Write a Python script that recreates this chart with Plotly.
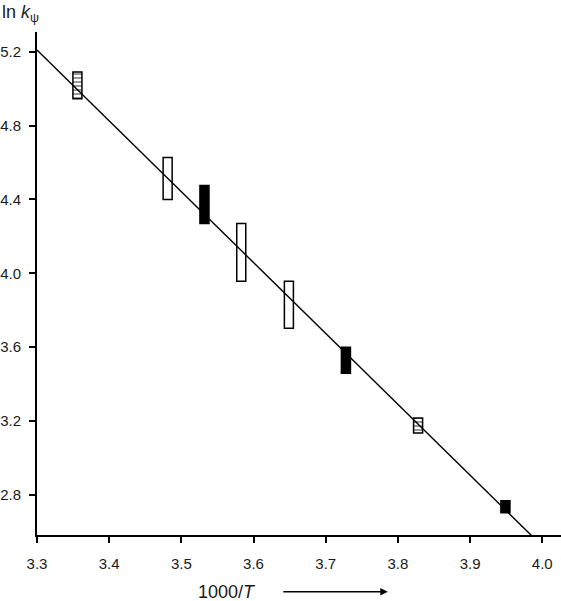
import plotly.graph_objects as go

# Data
x_open = [3.481, 3.583, 3.649]
lo_open = [4.40, 3.957, 3.703]
hi_open = [4.627, 4.27, 3.957]

x_filled = [3.532, 3.728, 3.949]
lo_filled = [4.27, 3.459, 2.703]
hi_filled = [4.476, 3.60, 2.768]

x_hatched = [3.356, 3.828]
lo_hatched = [4.946, 3.135]
hi_hatched = [5.09, 3.216]

fit_x = [3.30, 3.993]
fit_y = [5.21, 2.55]

x_ticks = [3.3, 3.4, 3.5, 3.6, 3.7, 3.8, 3.9, 4.0]
y_ticks = [2.8, 3.2, 3.6, 4.0, 4.4, 4.8, 5.2]

BW = 0.0125
fig = go.Figure()

fig.add_trace(go.Scatter(x=fit_x, y=fit_y, mode="lines",
                         line=dict(color="black", width=1.4), cliponaxis=False,
                         hoverinfo="skip"))

fig.add_trace(go.Bar(x=x_open, y=[h - l for h, l in zip(hi_open, lo_open)], base=lo_open,
                     width=BW, marker=dict(color="white", line=dict(color="black", width=1.5))))
fig.add_trace(go.Bar(x=x_filled, y=[h - l for h, l in zip(hi_filled, lo_filled)], base=lo_filled,
                     width=BW, marker=dict(color="black", line=dict(color="black", width=1.5))))
fig.add_trace(go.Bar(x=x_hatched, y=[h - l for h, l in zip(hi_hatched, lo_hatched)], base=lo_hatched,
                     width=BW, marker=dict(color="white", line=dict(color="black", width=1.5),
                                           pattern=dict(shape="-", fgcolor="black", size=4, solidity=0.4))))

fig.update_layout(
    width=561, height=601,
    margin=dict(l=37, r=0, t=32, b=66, autoexpand=False),
    plot_bgcolor="white", paper_bgcolor="white",
    showlegend=False, barmode="overlay",
    font=dict(family="Liberation Sans, Arial", size=15, color="#1a1a1a"),
    xaxis=dict(range=[3.3, 4.026], tickvals=x_ticks, ticktext=[f"{v:.1f}" for v in x_ticks],
               tickfont=dict(size=15),
               showgrid=False, zeroline=False, showline=True, linecolor="black", linewidth=2,
               ticks="outside", ticklen=6, tickwidth=1.5, tickcolor="black", automargin=False,
               ticklabelstandoff=8),
    yaxis=dict(range=[2.583, 5.307], tickvals=y_ticks, ticktext=[f"{v:.1f}" for v in y_ticks],
               tickfont=dict(size=15),
               showgrid=False, zeroline=False, showline=True, linecolor="black", linewidth=2,
               ticks="outside", ticklen=6, tickwidth=1.5, tickcolor="black", automargin=False,
               ticklabelstandoff=5),
    annotations=[
        dict(text="ln <i>k</i><sub>ψ</sub>", xref="paper", yref="paper", x=-0.0706, y=1.036,
             xanchor="left", yanchor="middle", showarrow=False, font=dict(size=18, color="#1a1a1a")),
        dict(text="1000/<i>T</i>", xref="paper", yref="paper", x=0.363, y=-0.113,
             xanchor="center", yanchor="middle", showarrow=False, font=dict(size=18, color="#1a1a1a")),
        dict(text="", xref="paper", yref="paper", x=0.6695, y=-0.113, ax=-106, ay=0,
             showarrow=True, arrowhead=2, arrowsize=1, arrowwidth=1.5, arrowcolor="black"),
    ],
)

fig.write_html("out.html", config={"displayModeBar": False},
               post_script="document.body.style.margin='0';")
